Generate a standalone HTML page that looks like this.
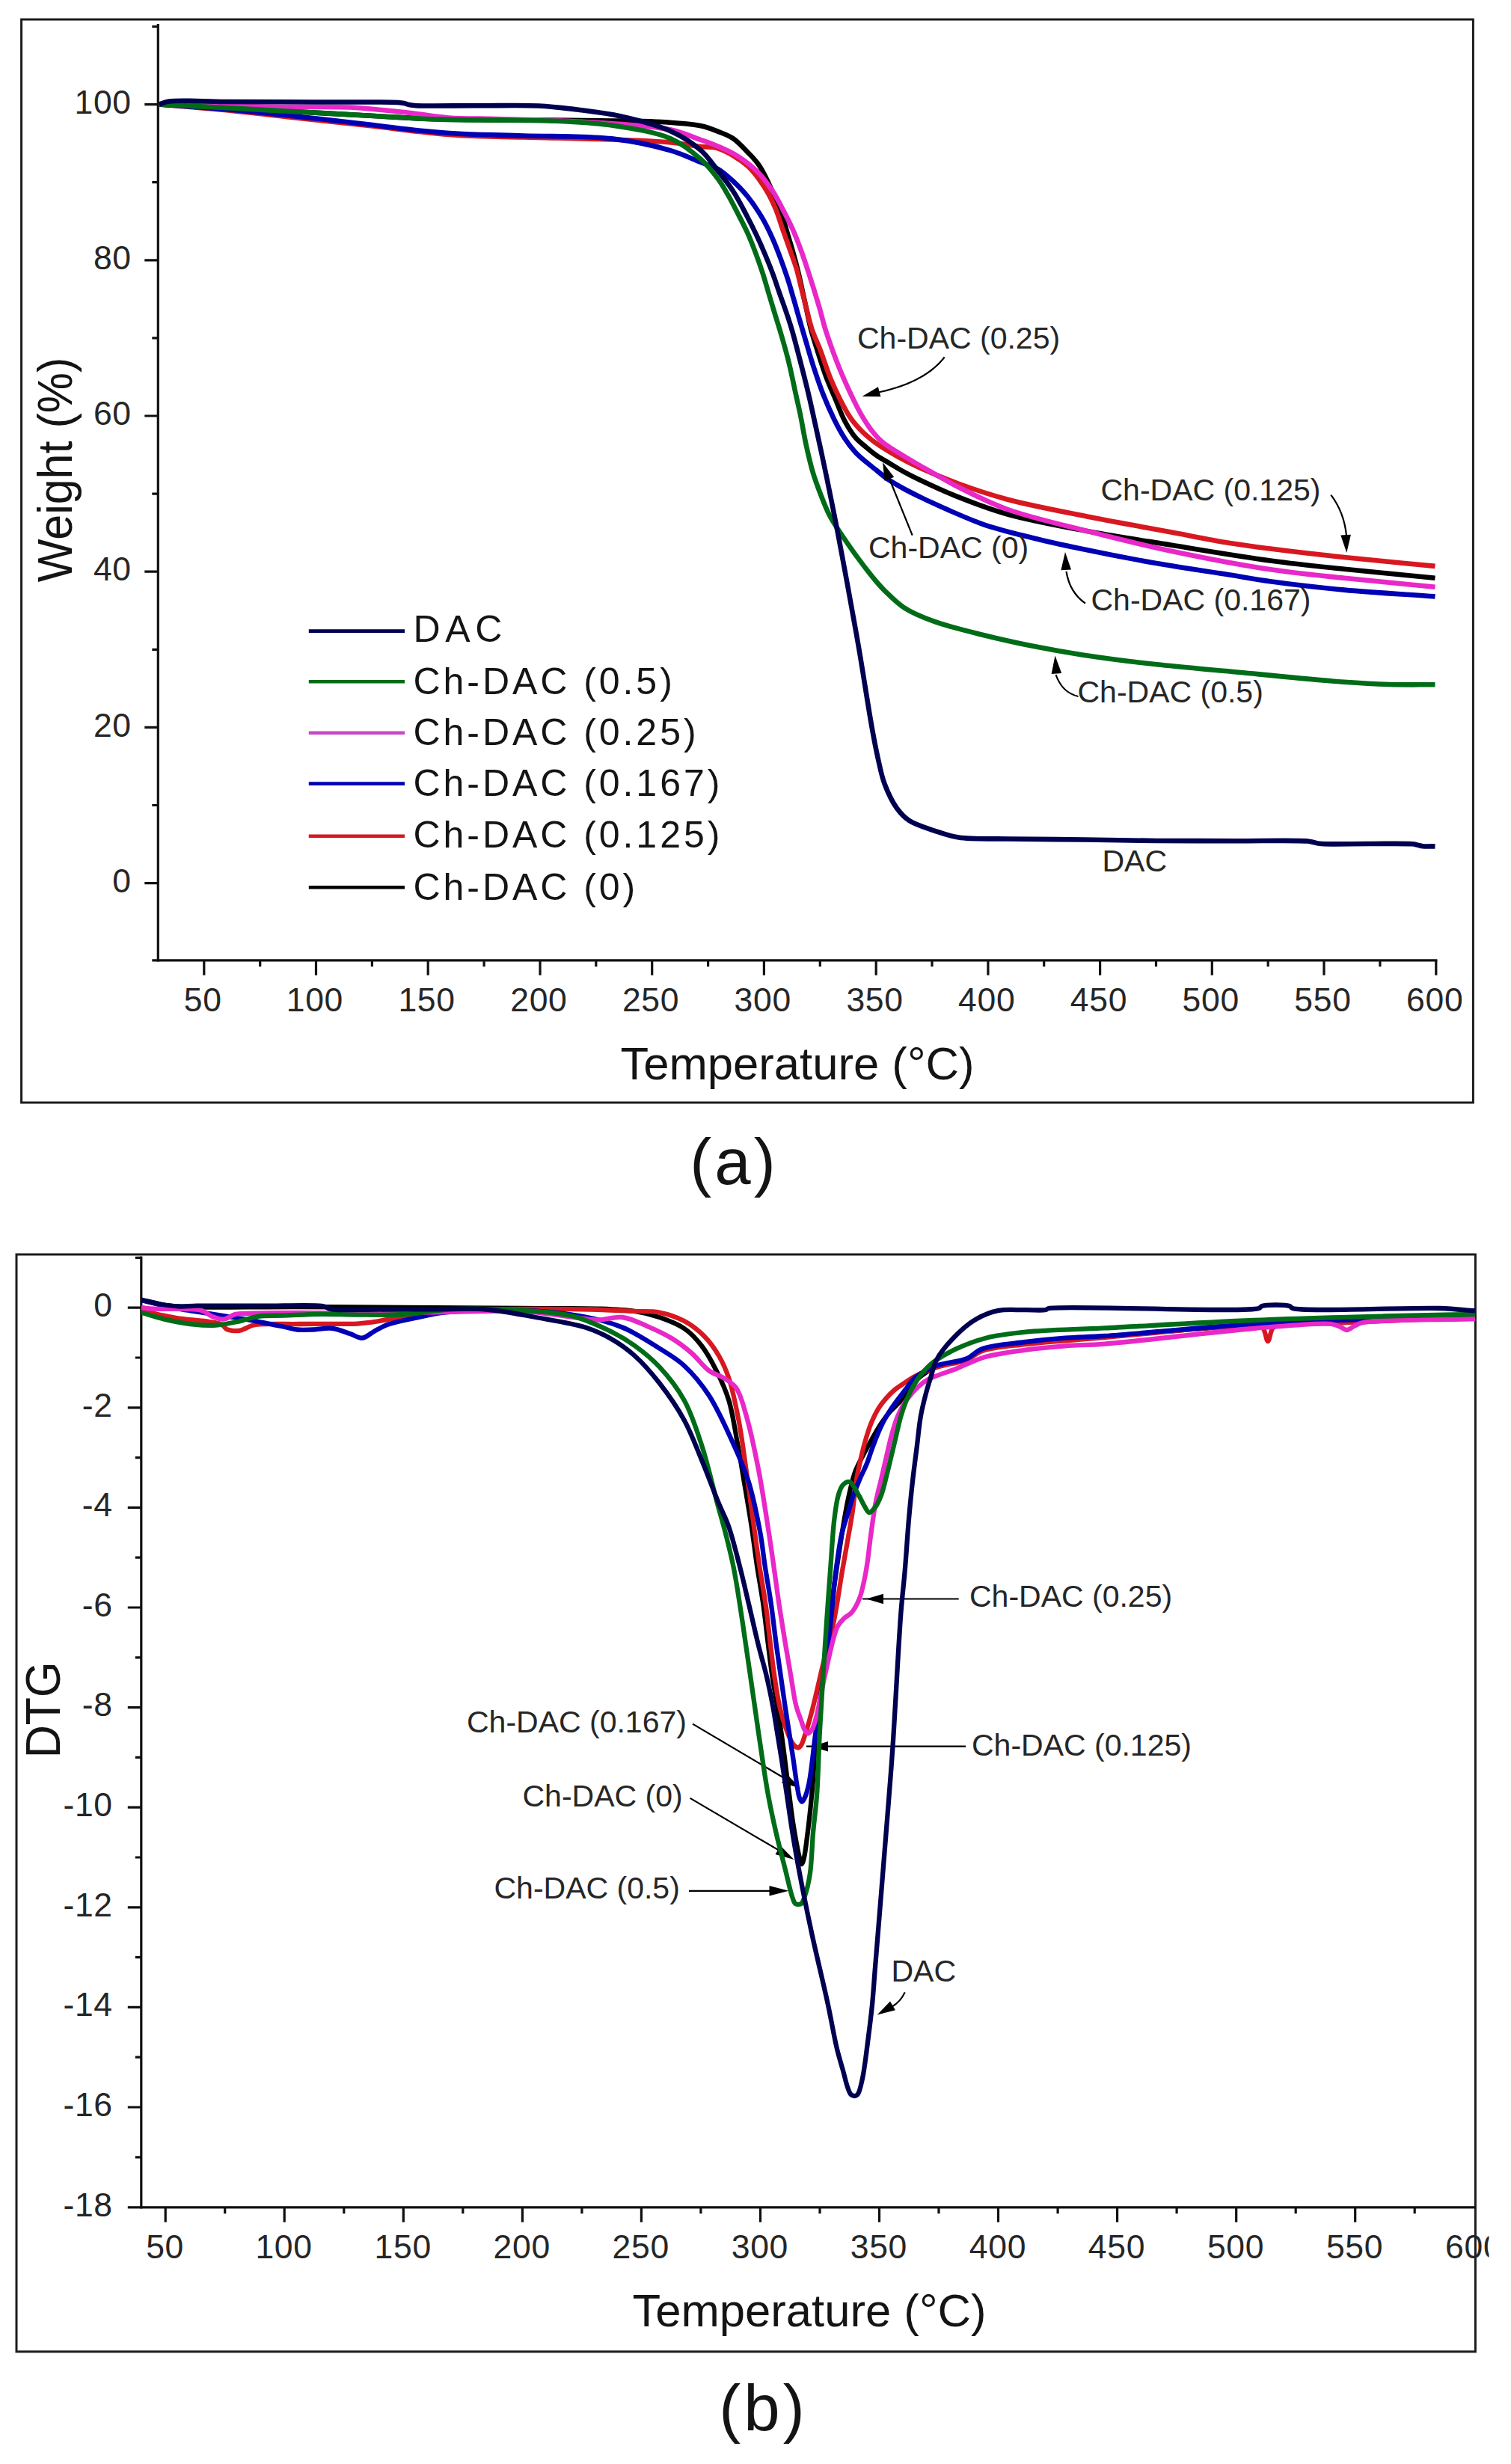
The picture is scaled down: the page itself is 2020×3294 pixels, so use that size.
<!DOCTYPE html>
<html lang="en">
<head>
<meta charset="utf-8">
<title>TGA and DTG curves</title>
<style>html,body{margin:0;padding:0;background:#fff}body{width:2020px;height:3294px;overflow:hidden}svg{display:block}text{white-space:pre}</style>
</head>
<body>
<svg width="2020" height="3294" viewBox="0 0 2020 3294">
<rect x="0" y="0" width="2020" height="3294" fill="#ffffff"/>
<defs><clipPath id="cb"><rect x="189" y="1678" width="1784" height="1273"/></clipPath><clipPath id="c600"><rect x="1900" y="2960" width="90.5" height="80"/></clipPath></defs>
<g fill="none" stroke="#1c1c1c" stroke-width="3">
<rect x="28.6" y="26" width="1940.8" height="1448"/>
<rect x="22" y="1677" width="1950.4" height="1466.8"/>
</g>
<g stroke="#101010" stroke-width="3.2" fill="none" stroke-linecap="butt">
<path d="M211.3 32 V1285.4"/>
<path d="M203.3 1283.8 H1921.4"/>
<path d="M211.3 1180.6 H193.3M211.3 972.4 H193.3M211.3 764.2 H193.3M211.3 556 H193.3M211.3 347.8 H193.3M211.3 139.6 H193.3M211.3 1076.5 H203.3M211.3 868.3 H203.3M211.3 660.1 H203.3M211.3 451.9 H203.3M211.3 243.7 H203.3M211.3 35.5 H203.3M272.8 1283.8 V1303.8M422.5 1283.8 V1303.8M572.2 1283.8 V1303.8M722 1283.8 V1303.8M871.7 1283.8 V1303.8M1021.4 1283.8 V1303.8M1171.2 1283.8 V1303.8M1320.9 1283.8 V1303.8M1470.6 1283.8 V1303.8M1620.3 1283.8 V1303.8M1770 1283.8 V1303.8M1919.8 1283.8 V1303.8M347.7 1283.8 V1292.3M497.4 1283.8 V1292.3M647.1 1283.8 V1292.3M796.8 1283.8 V1292.3M946.6 1283.8 V1292.3M1096.3 1283.8 V1292.3M1246 1283.8 V1292.3M1395.7 1283.8 V1292.3M1545.5 1283.8 V1292.3M1695.2 1283.8 V1292.3M1844.9 1283.8 V1292.3"/>
</g>
<g font-family='"Liberation Sans", Arial, Helvetica, sans-serif' font-size="44.5" letter-spacing="0.7" fill="#262626">
<text x="175.8" y="1192.8" text-anchor="end">0</text>
<text x="175.8" y="984.6" text-anchor="end">20</text>
<text x="175.8" y="776.4" text-anchor="end">40</text>
<text x="175.8" y="568.2" text-anchor="end">60</text>
<text x="175.8" y="360" text-anchor="end">80</text>
<text x="175.8" y="151.8" text-anchor="end">100</text>
<text x="271.2" y="1352.4" text-anchor="middle">50</text>
<text x="420.9" y="1352.4" text-anchor="middle">100</text>
<text x="570.6" y="1352.4" text-anchor="middle">150</text>
<text x="720.4" y="1352.4" text-anchor="middle">200</text>
<text x="870.1" y="1352.4" text-anchor="middle">250</text>
<text x="1019.8" y="1352.4" text-anchor="middle">300</text>
<text x="1169.6" y="1352.4" text-anchor="middle">350</text>
<text x="1319.3" y="1352.4" text-anchor="middle">400</text>
<text x="1469" y="1352.4" text-anchor="middle">450</text>
<text x="1618.7" y="1352.4" text-anchor="middle">500</text>
<text x="1768.5" y="1352.4" text-anchor="middle">550</text>
<text x="1918.2" y="1352.4" text-anchor="middle">600</text>
</g>
<g font-family='"Liberation Sans", Arial, Helvetica, sans-serif' fill="#141414">
<text x="1066" y="1443.2" font-size="61.6" text-anchor="middle">Temperature (°C)</text>
<text transform="translate(96 628) rotate(-90) scale(1 1.05)" font-size="61" text-anchor="middle">Weight (%)</text>
<text x="981.5" y="1583" font-size="87" letter-spacing="4" text-anchor="middle">(a)</text>
</g>
<g fill="none" stroke-width="6.6" stroke-linejoin="round" stroke-linecap="butt">
<path stroke="#000000" d="M213 139.5C242 141 270 142.4 300 144C332.2 145.7 366.7 147.7 400 149.5C433.3 151.3 467.8 153.3 500 155C530 156.6 554 158.4 587 159.3C630.4 160.5 695.3 160.1 738 160.5C769.5 160.8 795.1 161.1 820 161.5C840.7 161.8 857.8 161.6 877 162.7C896.8 163.8 921.8 165.1 937 168.3C946.6 170.3 952.7 173 960 175.9C967 178.6 973.6 180.8 979.9 185C986.9 189.7 993.6 197.3 999.7 203.7C1005.5 209.7 1010.6 214.6 1015.6 222.2C1022.2 232.1 1028.9 247.6 1034 259C1038.3 268.5 1041.6 276.8 1044.7 285.7C1047.8 294.4 1050.1 303.2 1052.7 312C1055.4 320.9 1058.1 329.8 1060.6 338.7C1063.1 347.5 1065.4 356.3 1067.5 365C1069.5 373.4 1071.2 381.7 1073 390C1074.8 398.3 1076.7 406.7 1078.5 415C1080.3 423.3 1081.8 431.5 1084 440C1086.4 449.1 1089.3 458.1 1092.5 468C1096.1 479.3 1100.2 492.6 1104.5 504C1108.4 514.5 1112.8 524.1 1117 534C1121.1 543.8 1124.7 554.2 1129.4 563C1133.7 571 1138.4 578.8 1143.6 584.9C1148 590.1 1153 593.6 1157.8 597.7C1162.5 601.7 1167.1 605.6 1172 609C1176.7 612.2 1181.1 614.5 1186.3 617.6C1192.7 621.4 1200.3 626.3 1207.6 630.3C1214.9 634.3 1221 637.4 1230 641.7C1243.5 648.1 1262.7 657.2 1281 664.4C1301.4 672.5 1321.9 680.5 1347 687.5C1379.1 696.5 1422 704.1 1458.8 711C1494.5 717.7 1527.2 722.5 1564.7 728.5C1607 735.3 1658.6 744.1 1700 749.7C1735 754.4 1762.8 757.2 1797 760.8C1835.2 764.9 1878 768.8 1918.5 772.8"/>
<path stroke="#d81820" d="M213 139.5C242 142 270 144.1 300 147C332.2 150.2 366.8 154.4 400 158C432.8 161.6 469.1 165.2 498 168.5C521 171.1 540.1 173.9 560 176C578.5 178 593.6 179.8 613.6 181C639 182.5 669 182.7 700 183.5C736.2 184.5 782.3 185.2 817.7 186.5C846.7 187.6 875.1 188.4 897 190.5C912.6 192 925.5 194.6 937 196C945.7 197.1 951.6 195.6 960 198.4C971.8 202.3 988.9 212.4 999.7 222C1009.6 230.8 1017.1 242.6 1023.5 252.7C1029.1 261.5 1033 270.1 1036.8 279C1040.5 287.7 1042.9 296.8 1046 305.6C1049.1 314.4 1052.2 323.2 1055.3 332C1058.4 340.8 1061.9 349.6 1064.6 358.5C1067.2 367.3 1069 376.2 1071.2 385C1073.4 393.8 1075.5 402.5 1077.8 411.5C1080.2 420.8 1082.3 430.6 1085.4 440C1088.6 449.6 1093 458.4 1096.8 468.4C1101 479.5 1105 492.8 1109.5 503.9C1113.6 514 1117.7 523.2 1122.3 532.3C1126.7 541.2 1131.4 550.4 1136.5 557.9C1140.9 564.4 1145.8 569.9 1150.7 575C1155.3 579.7 1160.1 583.8 1164.9 587.7C1169.5 591.4 1173.8 594.3 1179.1 597.7C1185.4 601.8 1192.7 606.2 1200.5 610.5C1209.5 615.5 1218.7 620.3 1230 625.5C1244.6 632.2 1262.8 639.8 1281 646.5C1301.4 654 1321.9 661 1347 667.7C1379.2 676.3 1422 684.1 1458.8 691.5C1494.5 698.6 1531.9 705.2 1564.7 711.3C1593 716.6 1619.8 722.1 1644 726C1664.2 729.3 1678.8 731.1 1700 733.8C1727.9 737.4 1762.8 741.4 1797 745C1835.2 749.1 1878 752.9 1918.5 756.9"/>
<path stroke="#0000b4" d="M213 139.5C242 141.7 270 143.4 300 146C332.2 148.8 366.8 152.5 400 156C432.8 159.5 469.1 163.6 498 167C521 169.7 540.1 172.5 560 174.5C578.5 176.4 593.6 177.7 613.6 178.8C639 180.2 669 180.5 700 181.5C736.2 182.7 782.5 181.3 817.7 185.4C846.9 188.8 875.3 194.9 897 201.3C912.8 206 925.5 212.5 937 217C945.7 220.4 952.9 221.9 960 226C967.2 230.2 973.5 236.1 979.9 242C986.7 248.3 993.4 255.1 999.7 263C1006.7 271.7 1013.9 282.7 1019.6 292.4C1024.8 301.3 1028.8 309.9 1032.8 318.8C1036.7 327.5 1040.1 336.4 1043.4 345.3C1046.7 354.1 1049.8 362.9 1052.7 371.8C1055.6 380.6 1058 389.4 1060.6 398.3C1063.3 407.4 1065.8 416.7 1068.5 426C1071.3 435.6 1074 444.9 1077 455C1080.3 466.1 1083.7 478.3 1087.5 490C1091.4 502 1095.4 514.2 1100 526C1104.6 537.8 1110 550.1 1115.2 560.7C1119.8 570 1124.4 578.6 1129.4 586.3C1133.9 593.2 1138.6 599.4 1143.6 604.8C1148.1 609.7 1153 613.5 1157.8 617.6C1162.5 621.6 1167.3 625.1 1172 628.9C1176.8 632.7 1180.9 636.6 1186.3 640.3C1192.6 644.6 1200.3 649 1207.6 653C1214.9 657 1222.9 660.9 1230 664.4C1236.2 667.5 1239.9 669.3 1247.8 672.8C1262.8 679.5 1291.7 693 1314 700.8C1335.8 708.4 1357.9 713.5 1380 719C1401.9 724.5 1422 728.8 1446 733.8C1474.5 739.8 1508.3 746.4 1540 752C1572.3 757.7 1609.1 762.9 1638 767.5C1661 771.2 1677 774.3 1700 777.5C1728.7 781.5 1762.8 785.4 1797 788.6C1835.2 792.2 1878 794.5 1918.5 797.4"/>
<path stroke="#e828c8" d="M213 139.5C242 140.2 271.7 140.9 300 141.5C327 142.1 351.9 142.7 379 143C407.8 143.4 442.3 142.3 468 143.5C487.7 144.4 504.9 146.5 520 148C531.7 149.1 539.5 150 551 151.3C565.5 153 582.6 156.2 600 157.5C619.6 159 641.1 158.4 663 159C686.9 159.6 712.7 160 738 161C764 162 790.6 162.9 817 165C843.6 167.1 875.1 168.7 897 173.5C912.8 177 925.5 182.9 937 187C945.8 190.1 952.2 192.3 960 195.7C968.6 199.5 977.9 203.5 986.5 209C995.6 214.8 1005.2 222.2 1013 230C1020.6 237.6 1027.1 246.8 1032.8 255.3C1038 263.1 1041.7 270.8 1046 279C1050.5 287.6 1055.3 296.7 1059.3 305.6C1063.2 314.3 1066.6 323.1 1069.9 332C1073.2 340.8 1076.1 349.7 1079 358.5C1081.9 367.3 1084.7 376.2 1087.5 385C1090.2 393.8 1092.9 402.6 1095.5 411.5C1098.1 420.6 1100.2 429.7 1103 439C1106 448.7 1109.5 458.7 1113 468.4C1116.5 478 1120 487.2 1124 496.8C1128.3 507 1133.3 518.2 1138 528C1142.3 537 1146.4 545.6 1151 553.6C1155.4 561.2 1160 568.6 1164.9 575C1169.4 580.8 1174.1 586.2 1179.1 590.6C1183.6 594.6 1188.1 597.1 1193.4 600.5C1199.7 604.6 1208.2 609.6 1214.7 613.5C1220.2 616.8 1223.4 618.7 1230 622.5C1242 629.4 1262.7 641.7 1281 651C1301.4 661.3 1321.7 671.9 1347 681C1379 692.5 1422 701.9 1458.8 711.3C1494.5 720.4 1527.1 728.6 1564.7 736.5C1606.9 745.4 1658.5 755.4 1700 761.6C1734.9 766.8 1762.8 769.2 1797 772.8C1835.2 776.9 1878 780.7 1918.5 784.7"/>
<path stroke="#006c18" d="M213 139.5C242 141 270 142.4 300 144C332.2 145.7 366.7 147.7 400 149.5C433.3 151.3 467.8 153.3 500 155C530 156.6 559.3 158.7 587 159.6C612.4 160.4 635.3 160.3 660 160.6C685.6 160.9 711.9 160.5 738 161.6C764.4 162.7 791.3 163.6 817.7 167.5C844.3 171.5 875.7 176.1 897 185.4C913.4 192.6 926 203.2 937 213C946.3 221.3 953.7 230.8 960 239.4C965.3 246.6 968.9 253.2 973.2 260.6C977.8 268.5 982.1 277.2 986.5 285.7C991 294.4 995.7 303.3 999.7 312.2C1003.6 321 1007 329.8 1010.3 338.7C1013.6 347.5 1016.7 356.3 1019.6 365.2C1022.5 374 1024.9 382.8 1027.5 391.6C1030.1 400.4 1032.8 409.4 1035.4 418C1037.9 426.2 1040.1 432.9 1042.8 442C1046.2 453.7 1050.7 468.9 1054.1 482.6C1057.6 496.6 1060.7 512.4 1063.5 525.2C1065.8 535.6 1067.6 543.2 1069.8 553.6C1072.4 566.4 1075 582.8 1078 596.3C1080.7 608.7 1083.5 620.7 1086.8 631.8C1089.8 641.9 1093.1 650.7 1096.8 660.2C1100.6 670.1 1104.5 680.5 1109.5 690C1114.5 699.4 1120.6 708 1126.6 717C1132.9 726.4 1139.3 735.7 1146.5 745.4C1154.3 756 1165.2 770 1172 778C1176.1 782.8 1178 785 1182.4 789.3C1189.1 795.8 1198.5 805.9 1208.8 812.5C1220.2 819.9 1233.3 825.2 1248.5 830.7C1267.5 837.6 1292.6 843.5 1314.7 849C1336.7 854.5 1358.9 859.4 1381 863.8C1403 868.2 1422.7 871.7 1447 875.4C1476.7 879.9 1513.9 884.7 1546.4 888.3C1577.5 891.8 1603.3 893.7 1638 897C1683.7 901.3 1756.7 908.8 1797 911.8C1821.7 913.6 1836.6 914.4 1856.7 915C1877.1 915.6 1897.9 915.2 1918.5 915.3"/>
<path stroke="#000050" d="M213 139.5C217.3 138.2 219.8 136.4 226 135.5C240.5 133.4 272.4 135.8 300 136C335.2 136.2 380.7 136.3 420 136.5C458 136.7 516.3 136 532 137C536.2 137.3 537.4 137.5 540 138C542.7 138.6 545.3 139.8 548 140.3C550.6 140.8 551.9 141 556 141.2C569.2 141.9 612.3 141.2 640 141.3C667 141.3 695.9 140.3 720 141.5C740.1 142.5 756.7 144.7 775 147C793.4 149.3 810.9 151.2 830 155.5C851.4 160.3 878 166.8 897 175.5C912.6 182.6 926.3 191.7 937 201C945.8 208.8 951.1 217.2 958 226C965.4 235.3 973.3 245.2 979.9 255.3C986.3 265.1 991.8 275.9 997 285.7C1001.8 294.8 1006.1 303.3 1010.3 312.2C1014.5 321 1018.4 329.8 1022.2 338.7C1025.9 347.5 1029.5 356.3 1032.8 365.2C1036.1 374 1038.9 382.8 1042 391.6C1045.1 400.4 1048.5 409.6 1051.3 418C1053.9 425.6 1055.9 431.4 1058.4 440C1061.9 451.8 1066.1 468.4 1069.8 482.6C1073.5 496.8 1077.1 511 1080.5 525.2C1083.9 539.4 1087 554.2 1090 567.8C1092.7 580.2 1095.2 591.5 1097.8 603.4C1100.3 615.2 1102.8 627.1 1105.3 638.9C1107.7 650.7 1110.1 662.6 1112.5 674.4C1114.9 686.2 1117.2 698.1 1119.5 709.9C1121.8 721.7 1124 733.6 1126.2 745.4C1128.4 757.2 1130.2 766.5 1132.8 780.9C1136.9 803.1 1142.8 835.5 1148 865.5C1153.9 899.6 1161 947.2 1166 974.7C1169 991.4 1171.1 1002.3 1174 1015C1176.6 1026.5 1178.4 1036.8 1182.4 1047.5C1186.6 1058.7 1192.7 1071.8 1199 1080.5C1204 1087.4 1208.5 1092.4 1215.5 1097C1224.2 1102.7 1237.4 1106.5 1248.5 1110.3C1259.4 1114 1268.5 1117.6 1281.6 1119.6C1299.7 1122.4 1323.3 1121 1347.8 1121.5C1378.2 1122.1 1416.5 1122.1 1450 1122.5C1482.5 1122.9 1513.4 1123.7 1546 1124C1580 1124.3 1615.8 1124.1 1650 1124.2C1683.2 1124.3 1733.5 1123.1 1748 1124.5C1752.2 1124.9 1753.3 1125.5 1756 1126C1758.7 1126.6 1760 1127.4 1764 1127.8C1775.3 1129.1 1808.7 1127.9 1830 1128C1850 1128.1 1878.1 1127.4 1888 1128.3C1891.5 1128.6 1892.7 1129.1 1895 1129.6C1897.3 1130.1 1899.2 1130.9 1902 1131.2C1906.3 1131.7 1913 1131.3 1918.5 1131.4"/>
</g>
<g stroke-width="4.6" fill="none">
<path stroke="#000050" d="M412.8 843.6 H541"/>
<path stroke="#006c18" d="M412.8 911.3 H541"/>
<path stroke="#c848c8" d="M412.8 979.8 H541"/>
<path stroke="#0000b4" d="M412.8 1047.6 H541"/>
<path stroke="#d81820" d="M412.8 1117.7 H541"/>
<path stroke="#000000" d="M412.8 1186.2 H541"/>
</g>
<g font-family='"Liberation Sans", Arial, Helvetica, sans-serif' font-size="50" fill="#141414" letter-spacing="3.1">
<text x="552.5" y="858" letter-spacing="6.6">DAC</text>
<text x="552.5" y="927.5" letter-spacing="3.95">Ch-DAC (0.5)</text>
<text x="552.5" y="996" letter-spacing="3.95">Ch-DAC (0.25)</text>
<text x="552.5" y="1064.4" letter-spacing="3.95">Ch-DAC (0.167)</text>
<text x="552.5" y="1133" letter-spacing="3.95">Ch-DAC (0.125)</text>
<text x="552.5" y="1202.5" letter-spacing="3.95">Ch-DAC (0)</text>
</g>
<g font-family='"Liberation Sans", Arial, Helvetica, sans-serif' font-size="41" fill="#262626">
<text x="1146" y="465.8">Ch-DAC (0.25)</text>
<text x="1471.5" y="669.3">Ch-DAC (0.125)</text>
<text x="1161" y="746.3">Ch-DAC (0)</text>
<text x="1458.5" y="815.6">Ch-DAC (0.167)</text>
<text x="1440.5" y="939.3">Ch-DAC (0.5)</text>
<text x="1473.5" y="1165">DAC</text>
</g>
<g stroke="#000" stroke-width="2.2" fill="none">
<path d="M1262.7 477.5 Q1236 512 1172 525"/>
<path d="M1219.7 715.6 L1189 640"/>
<path d="M1779.3 661.6 Q1797 685 1800 716"/>
<path d="M1451 806.6 Q1430 792 1425.5 764"/>
<path d="M1441.5 931 Q1420 926 1411.5 902"/>
<path d="M1281.7 2137.5 H1153"/>
<path d="M1291 2334.7 H1078"/>
<path d="M926 2304.6 L1050 2378"/>
<path d="M922.6 2403.9 L1042 2474"/>
<path d="M921 2527.8 H1030"/>
<path d="M1209.7 2663.4 Q1204 2676 1192 2683"/>
</g>
<g fill="#000" stroke="none">
<path d="M1152.5 530 L1173.9 517.2 L1177.4 530.3 Z"/>
<path d="M1180 618 L1195.2 637.8 L1182.6 642.8 Z"/>
<path d="M1800.3 739 L1792.3 715.4 L1805.9 714.7 Z"/>
<path d="M1424 738 L1432 761.6 L1418.4 762.3 Z"/>
<path d="M1410.5 876.5 L1419.2 899.9 L1405.6 901 Z"/>
<path d="M1158 2137.5 L1181 2130.7 L1181 2144.3 Z"/>
<path d="M1085 2334.7 L1107 2327.9 L1107 2341.5 Z"/>
<path d="M1070 2390.5 L1045 2383.6 L1052 2371.9 Z"/>
<path d="M1061.5 2486 L1036.5 2479.1 L1043.5 2467.4 Z"/>
<path d="M1054.5 2527.8 L1028.5 2534.6 L1028.5 2521 Z"/>
<path d="M1172.7 2693.5 L1190 2675.6 L1196.9 2687.3 Z"/>
</g>
<g stroke="#101010" stroke-width="3.2" fill="none">
<path d="M188.8 1679.5 V2952.4"/>
<path d="M170.8 2950.8 H1972.4"/>
<path d="M188.8 2817 H170.8M188.8 2683.4 H170.8M188.8 2549.8 H170.8M188.8 2416.2 H170.8M188.8 2282.6 H170.8M188.8 2149 H170.8M188.8 2015.4 H170.8M188.8 1881.8 H170.8M188.8 1748.2 H170.8M188.8 2883.8 H180.8M188.8 2750.2 H180.8M188.8 2616.6 H180.8M188.8 2483 H180.8M188.8 2349.4 H180.8M188.8 2215.8 H180.8M188.8 2082.2 H180.8M188.8 1948.6 H180.8M188.8 1815 H180.8M188.8 1681.4 H180.8M221.2 2950.8 V2970.8M380.2 2950.8 V2970.8M539.3 2950.8 V2970.8M698.4 2950.8 V2970.8M857.4 2950.8 V2970.8M1016.5 2950.8 V2970.8M1175.5 2950.8 V2970.8M1334.5 2950.8 V2970.8M1493.6 2950.8 V2970.8M1652.7 2950.8 V2970.8M1811.7 2950.8 V2970.8M300.7 2950.8 V2959.3M459.8 2950.8 V2959.3M618.8 2950.8 V2959.3M777.9 2950.8 V2959.3M936.9 2950.8 V2959.3M1096 2950.8 V2959.3M1255 2950.8 V2959.3M1414.1 2950.8 V2959.3M1573.1 2950.8 V2959.3M1732.2 2950.8 V2959.3M1891.2 2950.8 V2959.3"/>
</g>
<g font-family='"Liberation Sans", Arial, Helvetica, sans-serif' font-size="44.5" letter-spacing="0.7" fill="#262626">
<text x="150.8" y="2962.6" text-anchor="end">-18</text>
<text x="150.8" y="2828.8" text-anchor="end">-16</text>
<text x="150.8" y="2695.2" text-anchor="end">-14</text>
<text x="150.8" y="2561.6" text-anchor="end">-12</text>
<text x="150.8" y="2428" text-anchor="end">-10</text>
<text x="150.8" y="2294.4" text-anchor="end">-8</text>
<text x="150.8" y="2160.8" text-anchor="end">-6</text>
<text x="150.8" y="2027.2" text-anchor="end">-4</text>
<text x="150.8" y="1893.6" text-anchor="end">-2</text>
<text x="150.8" y="1760" text-anchor="end">0</text>
<text x="220.6" y="3018.8" text-anchor="middle">50</text>
<text x="379.6" y="3018.8" text-anchor="middle">100</text>
<text x="538.7" y="3018.8" text-anchor="middle">150</text>
<text x="697.8" y="3018.8" text-anchor="middle">200</text>
<text x="856.8" y="3018.8" text-anchor="middle">250</text>
<text x="1015.9" y="3018.8" text-anchor="middle">300</text>
<text x="1174.9" y="3018.8" text-anchor="middle">350</text>
<text x="1334" y="3018.8" text-anchor="middle">400</text>
<text x="1493" y="3018.8" text-anchor="middle">450</text>
<text x="1652.1" y="3018.8" text-anchor="middle">500</text>
<text x="1811.1" y="3018.8" text-anchor="middle">550</text>
<text x="1970.2" y="3018.8" text-anchor="middle" clip-path="url(#c600)">600</text>
</g>
<g font-family='"Liberation Sans", Arial, Helvetica, sans-serif' fill="#141414">
<text x="1082" y="3109.8" font-size="61.6" text-anchor="middle">Temperature (°C)</text>
<text transform="translate(79.5 2286) rotate(-90) scale(1 1.07)" font-size="61" text-anchor="middle">DTG</text>
<text x="1020.5" y="3249" font-size="87" letter-spacing="4" text-anchor="middle">(b)</text>
</g>
<g fill="none" stroke-width="6.3" stroke-linejoin="round" clip-path="url(#cb)">
<path stroke="#000000" d="M189 1738C197.7 1740 205.9 1742.5 215 1744C224.8 1745.6 231.7 1746.3 246 1747C277.8 1748.5 340.2 1746.8 400 1747C483.5 1747.3 627 1748.5 700 1749C741.9 1749.3 771.7 1748.6 799 1749.6C818.3 1750.3 833.7 1750.7 848.5 1753C860.7 1754.9 870.7 1757.3 881.6 1761C892.8 1764.9 905.1 1769.4 914.7 1776C923.8 1782.2 931 1790.1 937.9 1799C945.5 1808.7 951.8 1820.6 957.7 1832.4C964 1844.8 969.8 1857.3 974.3 1872C979.6 1889.3 982.4 1910.9 986 1930C989.5 1948.6 992.4 1966.7 995.5 1985C998.6 2003.3 1001.8 2021.8 1004.6 2040C1007.3 2057.8 1009.4 2075.3 1012 2093C1014.7 2110.7 1018 2128.3 1020.5 2146C1023 2163.6 1024.9 2182.5 1027 2199C1028.8 2213.5 1030.3 2226.4 1032.3 2240C1034.3 2253.4 1036.9 2266.7 1039 2280C1041.1 2293.3 1042.9 2305.2 1045 2320C1047.6 2338.4 1050.4 2362 1053 2382C1055.4 2400.6 1057.7 2420.8 1060 2436C1061.7 2447.2 1063.3 2456.4 1065 2465C1066.3 2472 1067.6 2479 1069 2484C1069.9 2487.3 1070.8 2492 1071.8 2492C1072.8 2492 1073.9 2487.6 1074.8 2484C1076.6 2477 1078 2463.3 1079.5 2452C1081.1 2439.4 1082.7 2424.8 1084 2412C1085.2 2400.2 1086.1 2390.3 1087 2378C1088.1 2363.4 1088.4 2348.5 1090 2330C1092.2 2304.7 1096.5 2270 1100 2240C1103.5 2210 1107.3 2178.1 1111 2150C1114.3 2125.2 1117.7 2102 1121 2080C1124 2060.3 1127.1 2040 1130 2024C1132.2 2011.8 1134.2 2001.9 1136.5 1992C1138.5 1983.4 1140.2 1975.6 1143 1968C1145.7 1960.6 1149.4 1954 1153 1947C1156.7 1939.7 1160.9 1932.3 1165 1925C1169.2 1917.6 1173.6 1909.6 1178 1903C1181.9 1897.1 1185.8 1891.8 1190 1887C1193.8 1882.6 1198.1 1879.3 1202 1875C1206.1 1870.4 1210.1 1865 1214 1860C1217.8 1855 1220 1849.8 1225 1845C1231.6 1838.7 1241.7 1831.4 1252 1827C1263.6 1822 1281.1 1822.5 1292 1818C1300.5 1814.5 1303.8 1808.4 1313 1805C1327.2 1799.8 1348.7 1798.7 1371 1796C1401 1792.4 1436.1 1790.4 1477 1787C1533 1782.4 1603.1 1775.3 1676 1771C1764.9 1765.8 1873.3 1763.7 1972 1760"/>
<path stroke="#d81820" d="M189 1752C197.7 1754 206.4 1756.2 215 1758C223.3 1759.7 230.4 1761.2 239.6 1762.6C251.4 1764.3 269.6 1765.3 280 1767C286.6 1768.1 292 1768.4 296 1770.5C299.1 1772.1 300.5 1775.6 303 1777C305.2 1778.2 307.4 1778.5 310 1778.8C313 1779.2 316.9 1779.3 320 1778.8C322.9 1778.3 325.2 1777.1 328 1776C331.3 1774.7 333.6 1772.6 338.8 1771.5C350.7 1769 378.4 1770.3 400 1770C424.4 1769.6 461.6 1770.4 477.8 1769.6C485.2 1769.2 487.1 1768.9 494 1768C506.1 1766.4 527.4 1762.3 544 1759.6C560.6 1756.9 573.9 1753.7 593.6 1752C622.3 1749.5 666 1750.2 700 1750C731.3 1749.8 763.2 1749.9 790 1750.5C811.6 1751 831.8 1752.2 848.5 1753C861.1 1753.6 870.7 1752.5 881.6 1754.6C892.8 1756.8 904.7 1760.7 914.7 1766C924.5 1771.2 933.5 1778.2 941.2 1786C948.9 1793.7 955.5 1803.1 961 1812.5C966.5 1821.9 970.3 1830.6 974.3 1842.3C979.6 1857.9 983.7 1878.9 987.5 1898.5C991.6 1919.6 994.2 1941.9 997.5 1964.7C1001 1989 1004.6 2017.1 1007.8 2040C1010.5 2059.2 1012.6 2075.3 1015.2 2093C1017.9 2110.7 1021.2 2128.3 1023.7 2146C1026.2 2163.6 1028 2182.5 1030 2199C1031.8 2213.5 1033.2 2226.4 1035.2 2240C1037.2 2253.4 1039.2 2267.7 1042 2280C1044.4 2290.8 1047.5 2301.3 1050.5 2310C1052.9 2316.8 1055.5 2323.6 1058 2328C1059.6 2330.8 1061.3 2333.1 1063 2334.5C1064.3 2335.6 1065.6 2336.6 1066.9 2336.5C1068.3 2336.3 1069.8 2334.8 1071 2333C1073 2330.2 1074.2 2325.3 1076 2320C1078.8 2311.7 1082 2300.6 1085.3 2288C1090.1 2270 1095.9 2242.8 1101 2222C1105.6 2203.3 1110.4 2187.9 1114.4 2169C1118.9 2147.6 1122.4 2120.9 1126 2100C1129 2082.5 1132 2066.3 1134.5 2051.9C1136.5 2040.2 1138.2 2031.4 1139.8 2020C1141.7 2006.9 1143.1 1989.4 1145 1977.7C1146.4 1969.4 1147.6 1963.9 1149.3 1956.5C1151.2 1948.1 1153.2 1938.8 1155.7 1930C1158.2 1921.1 1160.9 1911.8 1164.2 1903.6C1167.3 1896 1170.9 1888.5 1174.7 1882.4C1178 1877.1 1181.6 1872.8 1185.3 1868.6C1188.7 1864.7 1192.3 1861.1 1196 1858C1199.4 1855.2 1202.6 1853.2 1206.5 1850.6C1211.4 1847.3 1216.6 1843.4 1223 1840C1231.2 1835.7 1241.4 1831.5 1252 1828C1264.1 1824 1280.8 1822.4 1291.8 1818C1300.2 1814.6 1303.8 1809.2 1313 1806C1327.2 1801 1348.7 1799.7 1371 1797C1401 1793.4 1436.1 1791.4 1477 1788C1533 1783.4 1649.9 1769.8 1676 1772C1682.5 1772.5 1684.9 1772.3 1688 1775C1691.8 1778.4 1692.7 1793 1695 1793C1697.3 1793 1698.1 1778.6 1702 1775C1705.2 1772 1708.7 1772.1 1715 1771C1730.8 1768.3 1766.7 1769.3 1800 1768C1847.3 1766.2 1914.7 1763.3 1972 1761"/>
<path stroke="#0000b4" d="M189 1738C197.7 1740.2 206.4 1742.5 215 1744.5C223.4 1746.5 230.7 1748.3 240 1750C251.7 1752.2 267.6 1754 280 1756C290.7 1757.7 300.1 1759.4 310 1761C319.7 1762.6 328.5 1763.7 338.8 1765.6C351 1767.8 367.8 1771.3 378.5 1773.5C385.8 1775 390.6 1776.8 397 1777.5C403.7 1778.2 410.6 1777.7 418 1777.5C426.2 1777.2 435.6 1774.8 444 1775.8C452.2 1776.7 460.8 1780.7 468 1783C474 1784.9 479.1 1789.2 484.4 1788.7C489.8 1788.2 494.6 1782.9 500 1780C505.6 1777 510.4 1773.6 517.5 1771C527.5 1767.3 542.4 1764.7 555 1762C567.7 1759.3 577.5 1756.3 593.6 1754.6C620.2 1751.7 667.1 1750.8 700 1752C728.6 1753.1 756.4 1755.6 780 1760C799.4 1763.6 815.3 1767.6 832 1774.5C849.2 1781.6 866.9 1793.4 881.6 1802.6C893.9 1810.4 904.3 1816.1 914.7 1825.7C926.5 1836.6 937.6 1849.9 947.8 1865.5C960 1884.2 971.7 1911 981 1931.6C988.9 1949.1 995.2 1962.9 1000.8 1981C1007.3 2001.9 1012.7 2029.6 1016.5 2050C1019.4 2066 1020.3 2077.9 1022.6 2093C1025.1 2109.8 1028.6 2128.3 1031.1 2146C1033.6 2163.6 1035.6 2182.5 1037.8 2199C1039.8 2213.6 1041.8 2226.4 1043.7 2240C1045.6 2253.4 1047.5 2267.1 1049.4 2280C1051.2 2292 1053 2302.9 1054.8 2314.7C1056.7 2326.9 1058.6 2339.5 1060.5 2352C1062.4 2364.6 1064.3 2380.5 1066 2390C1067 2395.8 1067.6 2400.7 1069 2404C1069.9 2406.1 1070.9 2408.7 1072 2408.7C1073.1 2408.7 1074.4 2406.2 1075.5 2404C1077.6 2399.9 1079.5 2393.4 1081.3 2385C1084.8 2369.1 1086.9 2341.8 1090.6 2314.7C1095.6 2277.4 1104.3 2221 1109 2182C1112.7 2151.4 1114.4 2123.7 1117.5 2100C1119.9 2081.8 1121.8 2066.2 1125 2051.9C1127.7 2040.1 1131.7 2029.5 1134.5 2020C1136.8 2012.3 1138.4 2006 1140.8 1999C1143.3 1991.9 1146.3 1984.8 1149.3 1977.7C1152.3 1970.6 1156 1963.6 1158.9 1956.5C1161.7 1949.5 1163.7 1942.3 1166.3 1935.3C1168.9 1928.2 1171.9 1920.5 1174.7 1914C1177.2 1908.3 1179.5 1903.3 1182.2 1898.3C1184.8 1893.5 1187.5 1889.1 1190.6 1884.5C1193.8 1879.6 1197.6 1874.5 1201.2 1869.7C1204.7 1865 1208.2 1860.5 1211.8 1855.9C1215.5 1851.3 1217.9 1846.4 1223 1842C1230 1836.1 1241.2 1829.9 1252 1825.7C1263.9 1821.1 1280.9 1821 1291.8 1816.5C1300.3 1813 1303.7 1806.7 1313 1803.2C1327.2 1797.9 1352.2 1796.4 1371.2 1794C1389.2 1791.7 1406.4 1790 1424 1788.7C1441.6 1787.4 1453.7 1787.5 1477 1786C1522.2 1783 1611.9 1773.9 1676 1770C1735.9 1766.4 1797.1 1764.7 1850 1763C1894.3 1761.6 1931.3 1761 1972 1760"/>
<path stroke="#e828c8" d="M189 1748C194.6 1748.6 198.4 1749.2 205.8 1749.7C220.1 1750.7 255.8 1748 269 1751.7C275.7 1753.6 278 1757.6 283 1759.6C288 1761.6 293.7 1764 299 1763.6C304.4 1763.2 309 1758.3 315 1756.9C322 1755.3 329 1756 338.8 1755.7C354.5 1755.2 377.1 1755 400 1755C429.3 1755 467.2 1756.2 500 1756C531.7 1755.8 561.4 1754.5 593.6 1754C627.9 1753.5 669.6 1751.4 700 1753C722.9 1754.2 742.1 1757.9 760 1760C774.4 1761.7 786.5 1764.4 799 1764.5C810.5 1764.6 821.1 1759.7 832 1761C843.2 1762.3 854.1 1768.2 865 1772.8C876.2 1777.6 888 1783 898.2 1789.3C907.8 1795.2 916.4 1801.8 924.7 1809C933 1816.2 939.9 1826.7 947.8 1832.4C954.3 1837.1 961.6 1838.4 967.7 1842.3C973.7 1846.1 979.6 1849.2 984.2 1855.5C990.4 1864.1 993.3 1877.6 997.5 1892C1003.4 1911.9 1009.1 1939.4 1014 1964.7C1019.3 1991.9 1024.3 2026.4 1028 2050C1030.6 2066.8 1032.1 2077.9 1034.3 2093C1036.7 2109.7 1039.1 2128.3 1041.7 2146C1044.4 2163.7 1047.5 2182.5 1050.2 2199C1052.6 2213.5 1054.9 2226.4 1057.2 2240C1059.5 2253.4 1061.4 2269 1064.2 2280C1066.2 2287.9 1068.9 2294.2 1071 2300C1072.6 2304.5 1073.7 2308.9 1075.5 2312C1076.8 2314.3 1078.4 2317.3 1080 2317.4C1081.6 2317.5 1083.5 2315.2 1085 2313C1087.3 2309.7 1088.6 2304.8 1090.6 2298C1094.6 2284.4 1098.9 2256 1103.8 2235.3C1108.6 2214.8 1113.7 2186.3 1119.7 2174.4C1122.6 2168.6 1125.7 2166.2 1129 2163C1131.9 2160.2 1135.4 2159.3 1138.3 2156C1142.2 2151.5 1145.8 2144.9 1148.8 2137.4C1152.8 2127.3 1155.3 2113.3 1157.8 2100C1160.6 2085 1162 2067.4 1164.2 2051.9C1166.3 2037.3 1168 2022.6 1170.5 2009.5C1172.7 1998.1 1175.5 1988.3 1178 1977.7C1180.5 1967.1 1182.9 1956.1 1185.3 1946C1187.5 1936.7 1189.2 1928.2 1191.7 1919.4C1194.2 1910.5 1196.7 1901.2 1200.2 1893C1203.5 1885.4 1207.2 1878.3 1211.8 1871.8C1216.4 1865.3 1222.5 1858.6 1227.7 1853.8C1231.9 1849.9 1234.5 1847.6 1240 1844.5C1249 1839.5 1265.6 1834.8 1278.5 1829.7C1291.6 1824.5 1303.6 1817.9 1318 1813.8C1334.2 1809.2 1353.5 1807 1371.2 1804.6C1388.8 1802.2 1406.4 1800.6 1424 1799.3C1441.6 1798 1453.7 1798.4 1477 1796.6C1522.2 1793.1 1620.3 1780.5 1676 1776C1716.2 1772.8 1762.5 1767.7 1780 1770C1786.1 1770.8 1788.3 1772.6 1792 1774C1795.2 1775.3 1797.9 1778.1 1800.8 1778C1803.9 1777.9 1806.7 1774.6 1810 1773C1813.7 1771.2 1815.6 1769.4 1822 1768C1843.9 1763.2 1922 1764.7 1972 1763"/>
<path stroke="#006c18" d="M189 1754.7C199.2 1757.7 208.7 1761.1 219.7 1763.6C232 1766.5 247.1 1769.3 259.4 1770.6C269.9 1771.7 279.1 1772.1 289 1771.5C299 1770.8 309.4 1768.6 319 1766.6C328 1764.7 335.5 1761.2 344.8 1759.8C355.2 1758.3 366.2 1759 378.5 1758.6C393.4 1758.1 411.5 1757 428 1756.8C444.6 1756.6 460 1757.5 477.8 1757.6C498.3 1757.7 522.9 1758.3 544 1757C563.5 1755.8 578.6 1751.6 600 1750.5C628.5 1749.1 670.2 1750.1 700 1752C724.3 1753.6 745.7 1754.5 765.8 1759.6C783.9 1764.2 800.9 1772.2 815.5 1779.4C827.9 1785.5 837.8 1791.3 848.5 1799C859.9 1807.2 871.2 1816.2 881.6 1827.4C893.4 1840 905.5 1855.4 914.7 1872C924.6 1889.8 930.9 1910.2 937.9 1931.6C945.8 1955.7 953.1 1988.2 959 2010C963.2 2025.6 966.5 2036.1 970 2050C973.8 2065 977.6 2079.6 981 2097C985.2 2118.4 988.4 2140.8 992.7 2169C998.9 2209.1 1007.5 2272.6 1013.8 2314.7C1018.6 2346.9 1022.5 2375.4 1027 2400C1030.5 2418.9 1033.7 2433.4 1037.5 2450C1041.3 2466.7 1046.1 2484.6 1050 2500C1053.4 2513.3 1056.6 2529.3 1059.5 2537C1060.9 2540.7 1061.4 2543.7 1063.5 2545C1065.4 2546.2 1069.1 2546.2 1071 2545C1073.2 2543.6 1074 2540 1075.5 2536C1078 2529 1080.9 2517.6 1082.7 2506C1085.2 2490.3 1085.4 2468.1 1087 2450C1088.5 2432.9 1090.6 2418.9 1092 2400C1093.8 2375.4 1094.2 2346.9 1095.9 2314.7C1098.2 2272.6 1102.3 2208.6 1105 2169C1106.8 2141.7 1108.3 2123 1110 2100C1111.7 2076.9 1113.1 2049.3 1115.4 2030.7C1116.9 2018.1 1118.2 2007.3 1120.7 1999C1122.4 1993.3 1124 1988 1127 1985C1129.3 1982.6 1132.8 1980.2 1135.6 1981C1139.9 1982.2 1144.5 1993.2 1148 1999C1151.1 2004.1 1153.4 2009.9 1156 2014C1158 2017.2 1159.7 2021.8 1162 2022C1164.4 2022.2 1167.6 2018.1 1170 2015C1173.1 2011 1175.6 2005.1 1178 1999C1180.9 1991.4 1183 1981.3 1185.3 1972.4C1187.6 1963.6 1189.6 1954.8 1191.7 1946C1193.8 1937.2 1195.9 1928.2 1198 1919.4C1200.1 1910.6 1202 1901.3 1204.4 1893C1206.6 1885.5 1208.9 1878.8 1211.8 1871.8C1214.8 1864.6 1218.8 1856.7 1222.4 1850.6C1225.3 1845.7 1227.5 1842.3 1231 1838C1235.3 1832.8 1240.2 1827 1246.8 1821.8C1255.2 1815.2 1267.1 1808.6 1278.5 1803.2C1290.8 1797.4 1303.9 1792.4 1318.3 1788.7C1334.5 1784.6 1350.5 1782.8 1371.2 1780.7C1400.4 1777.8 1436.2 1777.5 1477 1775.4C1532.9 1772.5 1611.9 1767.7 1676 1765C1735.9 1762.5 1797.1 1760.9 1850 1759.5C1894.3 1758.3 1931.3 1757.8 1972 1757"/>
<path stroke="#000050" d="M189 1737.5C197.7 1739.5 206.4 1742 215 1743.5C223.4 1745 231.8 1746.2 240 1746.5C247.8 1746.8 252.9 1745.9 263 1745.7C282.7 1745.4 321.6 1745.7 350 1745.7C377.2 1745.7 418.6 1744.2 430 1745.8C433.2 1746.2 434 1746.8 436 1747.5C438 1748.2 438.9 1749.5 442 1750.2C451.3 1752.2 479.1 1750.5 500 1750.5C524.5 1750.5 554.2 1750.3 580 1750.3C604.1 1750.3 627.1 1748.7 650 1750.5C672.4 1752.3 694 1757 716 1761C738.1 1765 764.3 1768.8 782.4 1774.5C795.6 1778.7 804.8 1782.9 815.5 1789C826.9 1795.4 838 1803.1 848.5 1812.5C860.1 1822.8 871 1835.5 881.6 1849C893.2 1863.9 905.3 1881.3 914.7 1898.5C924 1915.5 930.3 1933.3 937.9 1951.5C945.8 1970.4 954.3 1993.8 961 2010C965.8 2021.7 969.8 2028.4 973.9 2040C979.2 2055 984.1 2075.3 988.7 2093C993.3 2110.6 997.2 2128.3 1001.4 2146C1005.6 2163.7 1009.7 2182.5 1013.8 2199C1017.4 2213.6 1021.4 2226.4 1024.6 2240C1027.8 2253.4 1030.6 2267.1 1033 2280C1035.3 2292 1036.8 2302.6 1038.8 2314.7C1041 2327.9 1043.3 2342 1045.5 2356C1047.7 2370.4 1049.8 2384.8 1052 2400C1054.4 2416.3 1056.8 2433.6 1059.5 2450.5C1062.3 2467.6 1064.9 2482.8 1068.5 2502C1073.1 2526.4 1079.2 2556.6 1085.3 2585C1091.8 2615.2 1100.5 2650.2 1106.5 2678C1111.4 2700.5 1115 2722.8 1119 2739.3C1121.8 2750.7 1124.5 2759.1 1127 2768C1129.2 2775.8 1130.9 2784.2 1133 2790C1134.5 2794.1 1135.6 2798.1 1137.5 2800C1138.8 2801.3 1140.5 2802 1142 2802C1143.5 2802 1145.2 2801.5 1146.5 2800C1149.3 2796.8 1151 2787.7 1152.9 2779C1156 2765.1 1158.5 2741.3 1160.8 2724C1162.8 2708.5 1164.5 2695.1 1166 2680C1167.6 2663.9 1168.4 2649.4 1170 2630C1172.2 2602.8 1175.5 2563.2 1178 2532C1180.3 2503.5 1182.7 2474 1184.6 2450C1186.1 2431.3 1187.2 2417.8 1188.6 2400C1190.2 2379.7 1191.7 2361.8 1193.5 2334.6C1196.6 2289.7 1201.1 2198.7 1204.4 2156C1206.3 2132 1208 2119.7 1209.7 2100C1211.6 2078.1 1213.1 2052.2 1215 2030.7C1216.7 2011.8 1218.4 1994.4 1220.3 1977.7C1222 1962.8 1223.8 1949.4 1225.6 1935.3C1227.4 1921.2 1228.6 1906 1230.9 1893C1232.9 1881.6 1235.8 1870.7 1238.3 1861.2C1240.4 1853.4 1242.4 1847.1 1244.7 1840C1247 1832.7 1247.8 1825.7 1252 1818C1257.6 1807.6 1269.1 1794.1 1278.5 1784.7C1286.9 1776.3 1295.5 1769 1305 1763.5C1314.1 1758.3 1323.6 1754.3 1334 1752.2C1345.2 1749.9 1358.8 1751.4 1370 1751.2C1379.9 1751 1393 1752.2 1398 1751C1400 1750.5 1399.5 1749.6 1402 1749C1421.9 1744.3 1663.2 1755.6 1683 1749C1685.6 1748.1 1684.8 1746.7 1687 1746C1693 1744 1718 1744 1724 1746C1726.2 1746.7 1725.4 1748.1 1728 1749C1744.2 1754.4 1881.9 1747.4 1925 1749C1946.1 1749.8 1956.3 1751.3 1972 1752.4"/>
</g>
<g font-family='"Liberation Sans", Arial, Helvetica, sans-serif' font-size="41" fill="#262626">
<text x="1296" y="2147.8">Ch-DAC (0.25)</text>
<text x="1299" y="2347.4">Ch-DAC (0.125)</text>
<text x="624" y="2316.2">Ch-DAC (0.167)</text>
<text x="698.5" y="2414.8">Ch-DAC (0)</text>
<text x="660.5" y="2537.9">Ch-DAC (0.5)</text>
<text x="1191.5" y="2648.8">DAC</text>
</g>
</svg>
</body>
</html>
